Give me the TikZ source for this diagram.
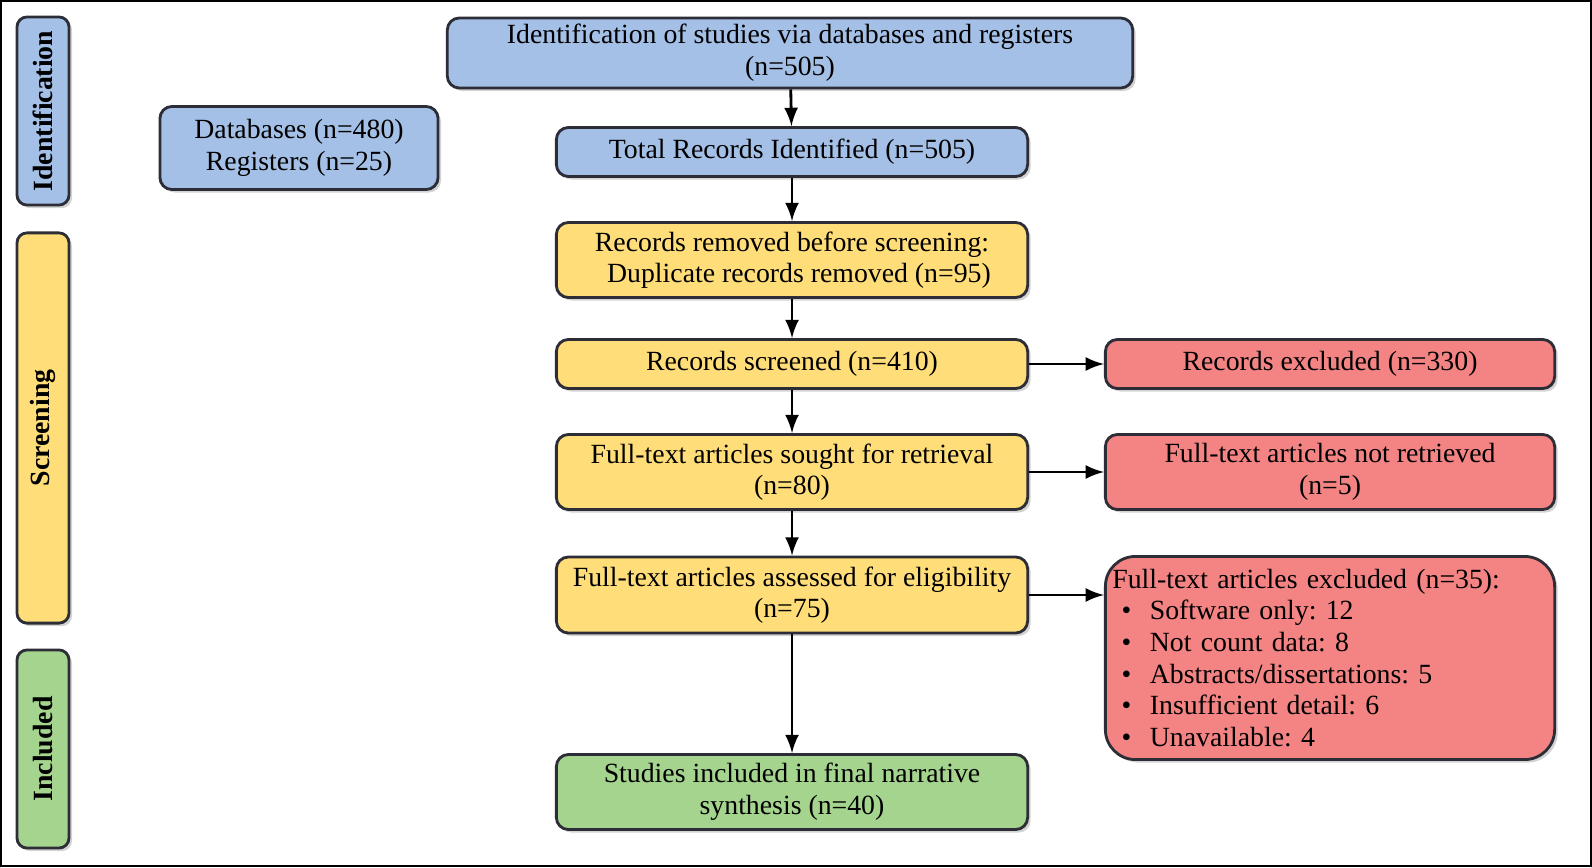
\documentclass[tikz,border=0pt]{standalone}
\usepackage{fontspec}
\setmainfont{Liberation Serif}
\frenchspacing
\usetikzlibrary{positioning,shadows}
\definecolor{boxBlue}{RGB}{164,192,230}
\definecolor{boxYellow}{RGB}{255,222,122}
\definecolor{boxRed}{RGB}{244,132,132}
\definecolor{boxGreen}{RGB}{164,212,142}
\definecolor{edgeColor}{RGB}{45,45,55}
\tikzstyle{flowBox} = [draw=edgeColor, thick, rounded corners=.12cm, align=center, inner sep=0pt,
  font=\fontsize{7.9pt}{9pt}\selectfont, drop shadow={opacity=.35, shadow xshift=.03cm, shadow yshift=-.03cm}]
\tikzstyle{stageBox} = [draw=edgeColor, thick, rounded corners=.1cm, minimum height=.52cm, inner sep=0pt,
  font=\fontsize{7.9pt}{9pt}\selectfont\bfseries, rotate=90, drop shadow={opacity=.35, shadow xshift=.03cm, shadow yshift=-.03cm}]
\tikzstyle{flowArrow} = [-latex, thick, color=black]
\newcommand{\flowNode}[6]{\node [flowBox, fill=#2, minimum width=#3cm, minimum height=#4cm] (#1) at (#5) {#6};}
\begin{document}
\begin{tikzpicture}[x=.01cm, y=-.01cm]
  \useasboundingbox (0,0) rectangle (1592,867);
  \draw [thin] (1,1) rectangle (1591,866);

  % stages
  \node [stageBox, fill=boxBlue, minimum width=1.88cm] (ident) at (43,111) {Identification};
  \node [stageBox, fill=boxYellow, minimum width=3.9cm] (screen) at (43,428) {Screening};
  \node [stageBox, fill=boxGreen, minimum width=1.98cm] (incl) at (43,749) {Included};

  % main column
  \flowNode{top}{boxBlue}{6.85}{.7}{790,53}{Identification of studies via databases and registers\\(n=505)}
  \flowNode{sources}{boxBlue}{2.78}{.83}{299,148}{Databases (n=480)\\Registers (n=25)}
  \flowNode{total}{boxBlue}{4.71}{.49}{792,152}{Total Records Identified (n=505)}
  \flowNode{removed}{boxYellow}{4.71}{.75}{792,260}{Records removed before screening:\\\ \ Duplicate records removed (n=95)}
  \flowNode{screened}{boxYellow}{4.71}{.49}{792,364}{Records screened (n=410)}
  \flowNode{sought}{boxYellow}{4.71}{.75}{792,472}{Full-text articles sought for retrieval\\(n=80)}
  \flowNode{assessed}{boxYellow}{4.71}{.76}{792,595}{Full-text articles assessed for eligibility\\(n=75)}
  \flowNode{included}{boxGreen}{4.71}{.75}{792,792}{Studies included in final narrative\\synthesis (n=40)}

  % side column
  \flowNode{excluded}{boxRed}{4.49}{.49}{1330,364}{Records excluded (n=330)}
  \flowNode{notRetrieved}{boxRed}{4.49}{.75}{1330,472}{Full-text articles not retrieved\\(n=5)}
  \node [flowBox, fill=boxRed, minimum width=4.49cm, minimum height=2.03cm, rounded corners=.3cm,
    align=left, text width=4.35cm] (reasons) at (1330,658) {%
    Full-text articles excluded (n=35):\\
    \ \textbullet\ \ Software only: 12\\
    \ \textbullet\ \ Not count data: 8\\
    \ \textbullet\ \ Abstracts/dissertations: 5\\
    \ \textbullet\ \ Insufficient detail: 6\\
    \ \textbullet\ \ Unavailable: 4};

  % arrows
  \draw [flowArrow] (top) -- (total);
  \draw [flowArrow] (total) -- (removed);
  \draw [flowArrow] (removed) -- (screened);
  \draw [flowArrow] (screened) -- (sought);
  \draw [flowArrow] (sought) -- (assessed);
  \draw [flowArrow] (assessed) -- (included);
  \draw [flowArrow] (screened) -- (excluded);
  \draw [flowArrow] (sought) -- (notRetrieved);
  \draw [flowArrow] (assessed.east) -- (assessed.east -| reasons.west);
\end{tikzpicture}
\end{document}
